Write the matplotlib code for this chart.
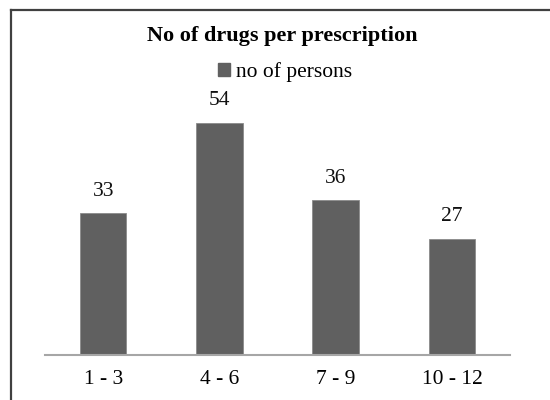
import matplotlib
matplotlib.use("Agg")
import matplotlib.pyplot as plt
from matplotlib.lines import Line2D
from matplotlib.patches import Patch

categories = ["1 - 3", "4 - 6", "7 - 9", "10 - 12"]
values = [33, 54, 36, 27]
series_name = "no of persons"
title = "No of drugs per prescription"

plt.rcParams['font.family'] = ['Liberation Serif', 'DejaVu Serif']

fig = plt.figure(figsize=(5.5, 4), dpi=100)
ax = fig.add_axes([45/550, 45/400, 465/550, (355-97)/400])

bar_color = "#606060"
x = range(len(categories))
bars = ax.bar(x, values, width=0.4, color=bar_color, edgecolor="#8a8a8a", linewidth=0.6)
for xi, v in zip(x, values):
    ax.annotate(str(v), (xi, v), xytext=(0, 9), textcoords="offset points",
                ha="center", va="bottom", fontsize=15.5, color="#111111")

ax.set_xlim(-0.5, len(categories) - 0.5)
ax.set_ylim(0, 60)
ax.set_xticks(list(x))
ax.set_xticklabels(categories, fontsize=15.5)
ax.tick_params(axis="x", length=0, pad=11)
ax.set_yticks([])
for s in ["top", "right", "left"]:
    ax.spines[s].set_visible(False)
ax.spines["bottom"].set_color("#a6a6a6")
ax.spines["bottom"].set_linewidth(1.5)

fig.text(282/550, 1 - 36/400, title, ha="center", va="center", fontsize=16, fontweight="bold")
handle = Patch(facecolor=bar_color, edgecolor=bar_color)
fig.legend([handle], [series_name], loc="center", bbox_to_anchor=(285/550, 1 - 72/400),
           frameon=False, fontsize=15.5, handlelength=0.55, handleheight=0.55, handletextpad=0.3,
           borderpad=0, borderaxespad=0)

# outer frame (top and left visible)
fig.add_artist(Line2D([11/550, 1], [1 - 10/400, 1 - 10/400], color="#404040", linewidth=1.6, transform=fig.transFigure))
fig.add_artist(Line2D([11/550, 11/550], [0, 1 - 10/400], color="#404040", linewidth=1.6, transform=fig.transFigure))

fig.savefig("out.png", dpi=100)
